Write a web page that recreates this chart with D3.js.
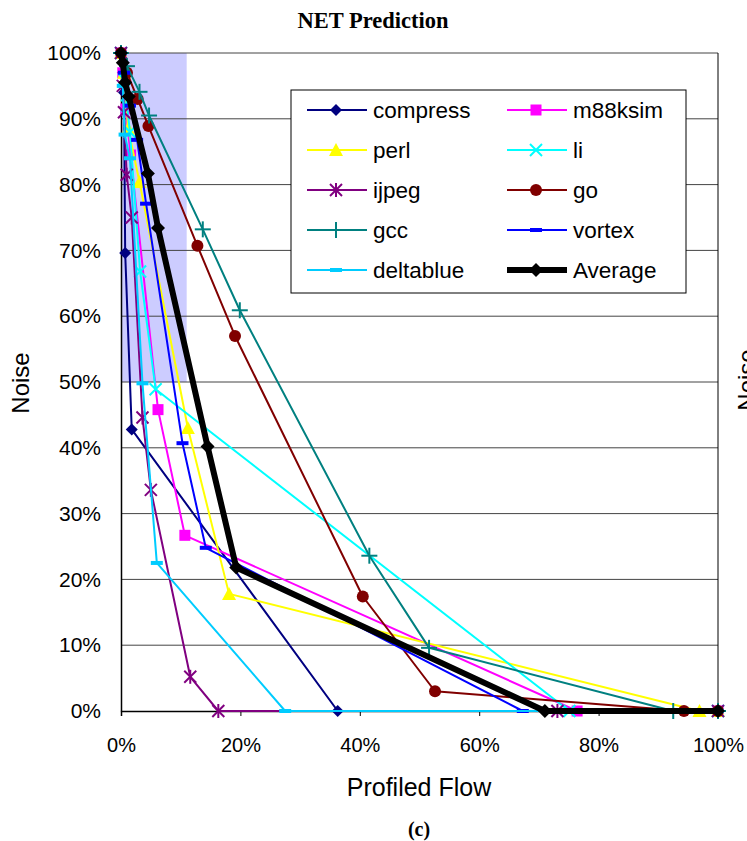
<!DOCTYPE html>
<meta charset="utf-8">
<head>
<style>
body { margin: 0; background: #fff; }
text { font-family: Arial, "Liberation Sans", sans-serif; }
.title { font-family: "Times New Roman", "Liberation Serif", serif; font-weight: bold; }
.grid line { stroke: #444; stroke-width: 1px; }
</style>
</head>
<body>
<svg width="747" height="841"></svg>
<script src="https://cdn.jsdelivr.net/npm/d3@7"></script>
<script>
// values, [profiled flow %, noise %]
var compress  = [[0,100],[0.3,97],[0.5,94],[0.7,69.6],[1.8,42.8],[36.3,0],[100,0]];
var m88ksim   = [[0,100],[0.3,97],[0.8,91.5],[1.6,84.5],[6.2,45.8],[10.7,26.7],[76.4,0],[100,0]];
var perl      = [[0,100],[0.5,97],[1.2,88.5],[3.1,80.4],[11.2,43],[18.1,17.8],[96.9,0],[100,0]];
var li        = [[0,100],[0.5,96],[1,92],[1.5,88],[3.2,66.8],[5.8,48.9],[75.1,0],[100,0]];
var ijpeg     = [[0,100],[0.3,95],[0.5,91],[0.95,81.5],[1.8,75],[3.6,44.6],[5.0,33.6],[11.6,5.2],[16.3,0],[73.1,0],[100,0]];
var go        = [[0,100],[1,97],[2.8,93],[4.6,88.9],[12.8,70.7],[19.1,57],[40.5,17.4],[52.6,3.0],[94.3,0],[100,0]];
var gcc       = [[0,100],[1,98],[3.1,94.1],[4.7,90.5],[13.7,73.2],[19.9,60.9],[41.6,23.6],[51.6,9.6],[92.5,0],[100,0]];
var vortex    = [[0,100],[0.5,97],[1.5,92],[2.7,86.8],[4.2,77.1],[10.3,40.7],[14.2,24.8],[67.3,0],[100,0]];
var deltablue = [[0,100],[0.3,95],[0.6,87.6],[1.5,84],[3.6,49.8],[6,22.5],[27.5,0],[100,0]];
var average   = [[0,100],[0.3,98.5],[0.7,95.5],[1.3,93.4],[4.5,81.7],[6.2,73.4],[14.5,40.2],[19.3,21.8],[71,0],[100,0]];

var seriesNames = ["compress","m88ksim","perl","li","ijpeg","go","gcc","vortex","deltablue","Average"];
var seriesData  = [compress, m88ksim, perl, li, ijpeg, go, gcc, vortex, deltablue, average];
var seriesColors = ["#000080","#ff00ff","#ffff00","#00ffff","#800080","#800000","#008080","#0000ff","#00ccff","#000000"];
var seriesMarkers = ["diamond","square","triangle","x","asterisk","circle","plus","dash","dash","diamond"];

var xTicks = [0,20,40,60,80,100];
var yTicks = [0,10,20,30,40,50,60,70,80,90,100];
var shadeX = [0, 11], shadeY = [50, 100];

var svg = d3.select("svg");
var x = d3.scaleLinear().domain([0,100]).range([121, 718]);
var y = d3.scaleLinear().domain([0,100]).range([711, 53]);

svg.append("text").attr("class","title")
    .attr("x", 373).attr("y", 28).attr("text-anchor","middle")
    .style("font-size","22.5px").text("NET Prediction");

// shaded region
svg.append("rect")
    .attr("x", x(shadeX[0])).attr("y", y(shadeY[1]))
    .attr("width", x(shadeX[1]) - x(shadeX[0]))
    .attr("height", y(shadeY[0]) - y(shadeY[1]))
    .attr("fill", "#ccccff");

// gridlines
svg.append("g").attr("class","grid")
  .selectAll("line").data(yTicks.filter(function(d){ return d > 0; }))
  .enter().append("line")
    .attr("x1", x(0)).attr("x2", x(100))
    .attr("y1", function(d){ return y(d); }).attr("y2", function(d){ return y(d); });

// axes
svg.append("g")
    .attr("transform", "translate(0," + y(0) + ")")
    .call(d3.axisBottom(x).tickValues(xTicks).tickSize(5).tickPadding(22)
      .tickFormat(function(d){ return d + "%"; }))
    .call(function(g){
      g.select(".domain").attr("stroke","#000").attr("stroke-width",1.5);
      g.selectAll("text").style("font-size","20px").attr("fill","#000");
    });
svg.append("g")
    .attr("transform", "translate(" + x(0) + ",0)")
    .call(d3.axisLeft(y).tickValues(yTicks).tickSize(0).tickPadding(20)
      .tickFormat(function(d){ return d + "%"; }))
    .call(function(g){
      g.select(".domain").attr("stroke","#000").attr("stroke-width",1.5);
      g.selectAll("text").style("font-size","21px").attr("fill","#000");
    });
svg.append("line").attr("x1", x(100)).attr("x2", x(100))
    .attr("y1", y(100)).attr("y2", y(0)).attr("stroke","#000");

svg.append("text").attr("transform","translate(29,383) rotate(-90)")
    .attr("text-anchor","middle").style("font-size","24px").text("Noise");
svg.append("text").attr("transform","translate(755,380) rotate(-90)")
    .attr("text-anchor","middle").style("font-size","24px").text("Noise");
svg.append("text").attr("x", 419).attr("y", 796)
    .attr("text-anchor","middle").style("font-size","25px").text("Profiled Flow");
svg.append("text").attr("class","title").attr("x", 419).attr("y", 836)
    .attr("text-anchor","middle").style("font-size","20px").text("(c)");

function drawMarker(g, type, color, big) {
  var s = big ? 7 : 6;
  if (type === "diamond") {
    g.append("path").attr("d","M0,"+(-s)+"L"+s+",0L0,"+s+"L"+(-s)+",0Z").attr("fill",color);
  } else if (type === "square") {
    g.append("rect").attr("x",-5.5).attr("y",-5.5).attr("width",11).attr("height",11).attr("fill",color);
  } else if (type === "triangle") {
    g.append("path").attr("d","M0,-7L7,6L-7,6Z").attr("fill",color);
  } else if (type === "circle") {
    g.append("circle").attr("r",6).attr("fill",color);
  } else if (type === "dash") {
    g.append("rect").attr("x",-6).attr("y",-2).attr("width",12).attr("height",4).attr("fill",color);
  } else {
    var segs = [];
    if (type === "x" || type === "asterisk") segs.push([-6,-6,6,6],[-6,6,6,-6]);
    if (type === "asterisk") segs.push([0,-7,0,7]);
    if (type === "plus") segs.push([-8,0,8,0],[0,-8,0,8]);
    segs.forEach(function(p){
      g.append("line").attr("x1",p[0]).attr("y1",p[1]).attr("x2",p[2]).attr("y2",p[3])
        .attr("stroke",color).attr("stroke-width",2);
    });
  }
}

var line = d3.line().x(function(d){ return x(d[0]); }).y(function(d){ return y(d[1]); });

seriesData.forEach(function(data, i) {
  var big = seriesNames[i] === "Average";
  svg.append("path").datum(data)
      .attr("d", line).attr("fill","none")
      .attr("stroke", seriesColors[i]).attr("stroke-width", big ? 6 : 2)
      .attr("stroke-linejoin","round");
  svg.append("g").selectAll("g").data(data).enter().append("g")
      .attr("transform", function(d){ return "translate(" + x(d[0]) + "," + y(d[1]) + ")"; })
      .each(function(){ drawMarker(d3.select(this), seriesMarkers[i], seriesColors[i], big); });
});

// legend
var legend = svg.append("g").attr("transform","translate(291,90)");
legend.append("rect").attr("width",395).attr("height",203)
    .attr("fill","#fff").attr("stroke","#000").attr("stroke-width",1);
seriesNames.forEach(function(name, i) {
  var col = i % 2, row = Math.floor(i / 2);
  var big = name === "Average";
  var item = legend.append("g").attr("transform","translate(" + (col === 0 ? 16 : 216) + "," + (20 + row * 40) + ")");
  item.append("line").attr("x1",0).attr("x2",60)
      .attr("stroke", seriesColors[i]).attr("stroke-width", big ? 6 : 2);
  drawMarker(item.append("g").attr("transform","translate(29,0)"), seriesMarkers[i], seriesColors[i], big);
  item.append("text").attr("x", 66).attr("y", 8).style("font-size","22.5px").text(name);
});
</script>
</body>
</html>
